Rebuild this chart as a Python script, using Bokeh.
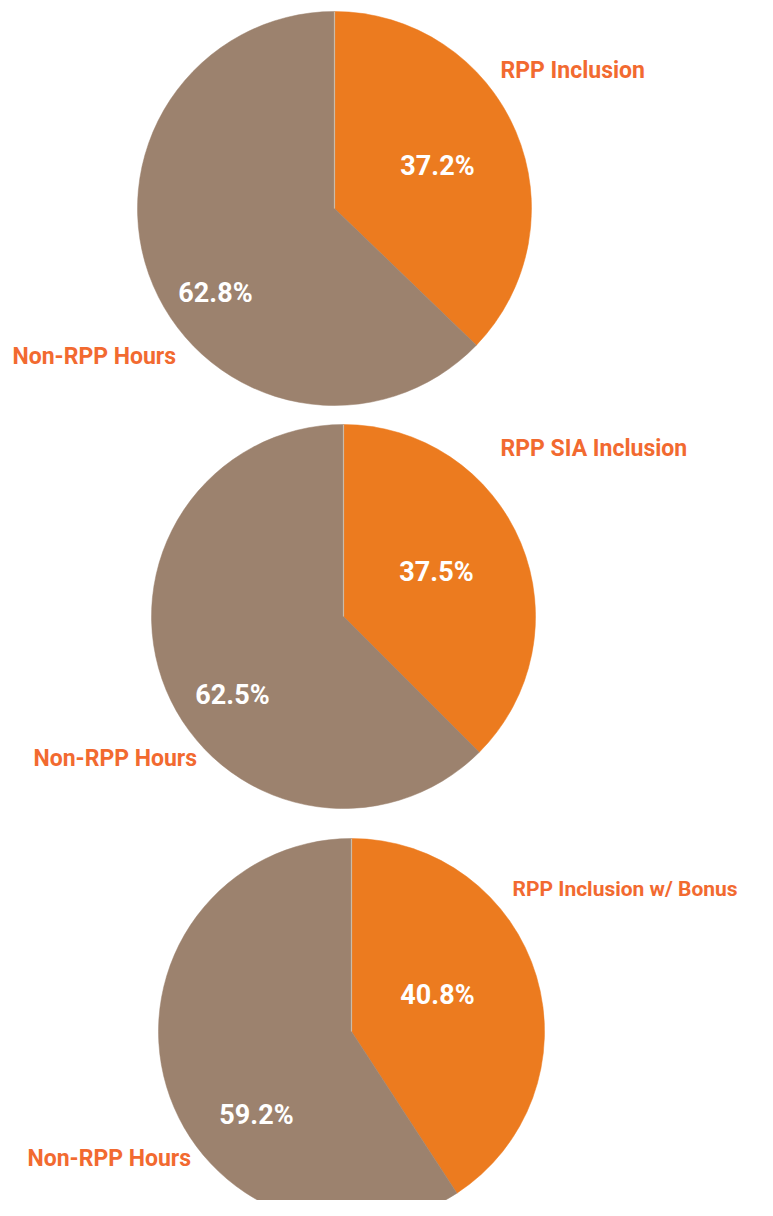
import numpy as np
from bokeh.plotting import figure
from bokeh.models import ColumnDataSource, Range1d
from bokeh.core.properties import value
from bokeh.embed import file_html
from bokeh.resources import INLINE

# ---- data ----
inclusion_names = ["RPP Inclusion", "RPP SIA Inclusion", "RPP Inclusion w/ Bonus"]
rpp_share = [37.2, 37.5, 40.8]
non_rpp_share = [62.8, 62.5, 59.2]
other_name = "Non-RPP Hours"

ORANGE = "#EC7B1F"
BROWN = "#9C826E"
LABEL = "#F26A30"
FONT = "Roboto"

W, H = 757, 1200
p = figure(width=W, height=H, output_backend="svg", toolbar_location=None,
           x_range=Range1d(0, W), y_range=Range1d(0, H))
p.axis.visible = False
p.grid.visible = False
p.outline_line_color = None
p.min_border = 0
p.background_fill_color = "white"
p.border_fill_color = "white"

def px(x):
    return x

def py(y):
    return H - y

# layout (image pixels)
centers = [(334, 208, 197), (343, 616, 192), (351, 1031, 193)]
name_pos = [(500, 70), (500, 448), (512, 888)]
name_size = ["23px", "23px", "21px"]
rpp_pct_pos = [(437, 165), (436, 571), (437, 994)]
non_pct_pos = [(215, 292), (232, 694), (256, 1114)]
other_pos = [(12, 356), (33, 758), (27, 1158)]

for i in range(3):
    cx, cy, r = centers[i]
    vals = np.array([rpp_share[i], non_rpp_share[i]])
    frac = vals / vals.sum()
    # clockwise from 12 o'clock
    ends = np.pi / 2 - np.concatenate([[0], np.cumsum(frac)[:-1]]) * 2 * np.pi
    starts = np.pi / 2 - np.cumsum(frac) * 2 * np.pi
    src = ColumnDataSource(dict(
        x=[px(cx)] * 2, y=[py(cy)] * 2,
        start=list(starts), end=list(ends),
        color=[ORANGE, BROWN],
    ))
    p.wedge(x="x", y="y", radius=r, radius_units="screen",
            start_angle="start", end_angle="end",
            fill_color="color", line_color="color", line_width=0.5, source=src)
    # thin separator at the top
    p.segment(x0=[px(cx)], y0=[py(cy)], x1=[px(cx)], y1=[py(cy) + r],
              line_color="#C9BBA9", line_width=1.2)

    p.text(x=[px(name_pos[i][0])], y=[py(name_pos[i][1])], text=[inclusion_names[i]],
           text_font=value(FONT), text_font_style="bold", text_font_size=name_size[i],
           text_color=LABEL, text_align="left", text_baseline="middle")
    p.text(x=[px(other_pos[i][0])], y=[py(other_pos[i][1])], text=[other_name],
           text_font=value(FONT), text_font_style="bold", text_font_size="23px",
           text_color=LABEL, text_align="left", text_baseline="middle")
    p.text(x=[px(rpp_pct_pos[i][0])], y=[py(rpp_pct_pos[i][1])],
           text=[f"{rpp_share[i]:.1f}%"],
           text_font=value(FONT), text_font_style="bold", text_font_size="27px",
           text_color="white", text_align="center", text_baseline="middle")
    p.text(x=[px(non_pct_pos[i][0])], y=[py(non_pct_pos[i][1])],
           text=[f"{non_rpp_share[i]:.1f}%"],
           text_font=value(FONT), text_font_style="bold", text_font_size="27px",
           text_color="white", text_align="center", text_baseline="middle")

open("out.html", "w").write(file_html(p, INLINE))
